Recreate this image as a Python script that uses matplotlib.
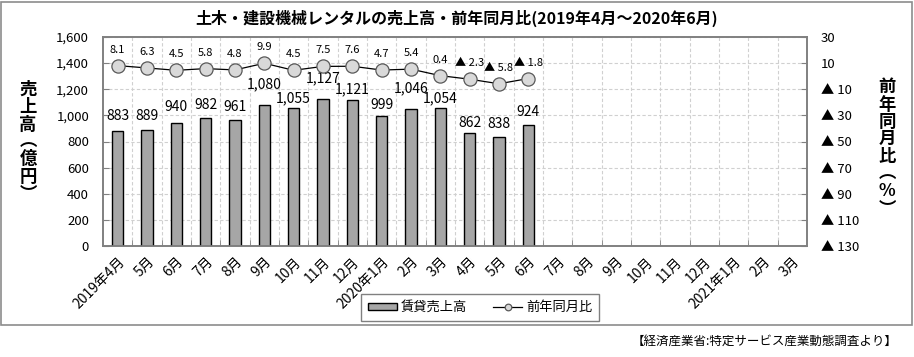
import numpy as np
import matplotlib
matplotlib.use("Agg")
import matplotlib.pyplot as plt
from matplotlib.patches import Rectangle
from matplotlib.ticker import FixedLocator, FuncFormatter

plt.rcParams['font.family'] = ['Noto Sans CJK JP', 'DejaVu Sans']

# 月ラベル（2019年4月～2021年3月）
months = ['2019年4月', '5月', '6月', '7月', '8月', '9月', '10月', '11月', '12月',
          '2020年1月', '2月', '3月', '4月', '5月', '6月', '7月', '8月', '9月',
          '10月', '11月', '12月', '2021年1月', '2月', '3月']

# 賃貸売上高（億円）
sales = [883, 889, 940, 982, 961, 1080, 1055, 1127, 1121, 999, 1046, 1054, 862, 838, 924]

# 前年同月比（%）
yoy = [8.1, 6.3, 4.5, 5.8, 4.8, 9.9, 4.5, 7.5, 7.6, 4.7, 5.4, 0.4, -2.3, -5.8, -1.8]

# 棒ラベル中心までの上方向オフセット(px) ... 元グラフの配置に合わせる
bar_lbl_off = [15, 14, 16, 13, 13, 21, 10, 20, 10, 11, 21, 10, 10, 13, 13]

fig = plt.figure(figsize=(9.14, 3.57), dpi=100)
px = 0.72  # 1px -> pt

# 外枠
fig.patches.append(Rectangle((1 / 914, 1 - 325 / 357), 911 / 914, 323 / 357,
                             transform=fig.transFigure, fill=False,
                             edgecolor='#8c8c8c', linewidth=1.2))

ax = fig.add_axes([103 / 914, 1 - 246 / 357, 704 / 914, 209 / 357])
x = np.arange(len(sales))

bars = ax.bar(x, sales, width=0.38, color='#a6a6a6', edgecolor='black',
              linewidth=1.0, label='賃貸売上高', zorder=3)
for xi, v, off in zip(x, sales, bar_lbl_off):
    ax.annotate(f'{v:,}', (xi, v), xytext=(0, off * px), textcoords='offset points',
                ha='center', va='center', fontsize=10, zorder=5)

ax.set_xlim(-0.5, len(months) - 0.5)
ax.set_ylim(0, 1600)
ax.set_yticks(np.arange(0, 1601, 200))
ax.yaxis.set_major_formatter(FuncFormatter(lambda v, p: f'{int(v):,}'))
ax.set_xticks(np.arange(len(months)))
ax.set_xticklabels(months, rotation=45, ha='right', rotation_mode='anchor', fontsize=10)
ax.xaxis.set_minor_locator(FixedLocator(np.arange(0.5, len(months) - 0.5, 1)))
ax.tick_params(axis='x', which='major', length=0, pad=6)
ax.tick_params(axis='x', which='minor', length=4, direction='in', color='#808080')
ax.tick_params(axis='y', direction='in', length=4, color='#808080', labelsize=9.5, pad=10)
ax.grid(axis='y', which='major', linestyle=(0, (3, 2)), color='#d0d0d0', linewidth=0.8, zorder=0)
ax.grid(axis='x', which='minor', linestyle=(0, (3, 2)), color='#d0d0d0', linewidth=0.8, zorder=0)
for s in ax.spines.values():
    s.set_color('#808080')
    s.set_linewidth(1.2)

ax2 = ax.twinx()
ax2.plot(np.arange(len(yoy)), yoy, color='black', linewidth=0.9, marker='o',
         markersize=9.5, markerfacecolor='#d9d9d9', markeredgecolor='#595959',
         markeredgewidth=0.9, label='前年同月比', zorder=4)
for xi, v in zip(range(len(yoy)), yoy):
    t = f'{v}' if v >= 0 else f'▲ {abs(v)}'
    ax2.annotate(t, (xi, v), xytext=(0, 11 * px), textcoords='offset points',
                 ha='center', va='bottom', fontsize=8, zorder=5)
ax2.set_ylim(-130, 30)
ax2.set_yticks(np.arange(-130, 31, 20))
ax2.yaxis.set_major_formatter(FuncFormatter(
    lambda v, p: f'{int(v)}' if v > 0 else f'▲ {int(-v)}'))
ax2.tick_params(axis='y', direction='in', length=4, color='#808080', labelsize=9.5, pad=10)
for s in ax2.spines.values():
    s.set_color('#808080')
    s.set_linewidth(1.2)
ax2.set_xlim(ax.get_xlim())

# タイトル・軸ラベル
fig.text(457 / 914, 1 - 18 / 357,
         '土木・建設機械レンタルの売上高・前年同月比(2019年4月～2020年6月)',
         ha='center', va='center', fontsize=11.5, fontweight='bold')
fig.text(28 / 914, 1 - 142 / 357, '売\n上\n高\n︵\n億\n円\n︶', ha='center', va='center',
         fontsize=12.5, fontweight='bold', linespacing=0.95)
fig.text(887 / 914, 1 - 148 / 357, '前\n年\n同\n月\n比\n︵\n%\n︶', ha='center', va='center',
         fontsize=12.5, fontweight='bold', linespacing=0.95)

h1, l1 = ax.get_legend_handles_labels()
h2, l2 = ax2.get_legend_handles_labels()
leg = fig.legend(h1 + h2, l1 + l2, loc='center', bbox_to_anchor=(480 / 914, 1 - 307.5 / 357),
                 ncol=2, fontsize=9.5, frameon=True, fancybox=False, edgecolor='#808080',
                 framealpha=1, handlelength=2.2, handleheight=0.5, handletextpad=0.3,
                 columnspacing=2.0, borderpad=0.5, markerscale=0.5)
leg.get_frame().set_linewidth(1.0)

fig.text(898 / 914, 1 - 341 / 357, '【経済産業省:特定サービス産業動態調査より】',
         ha='right', va='center', fontsize=9)

fig.savefig('out.png', dpi=100)
